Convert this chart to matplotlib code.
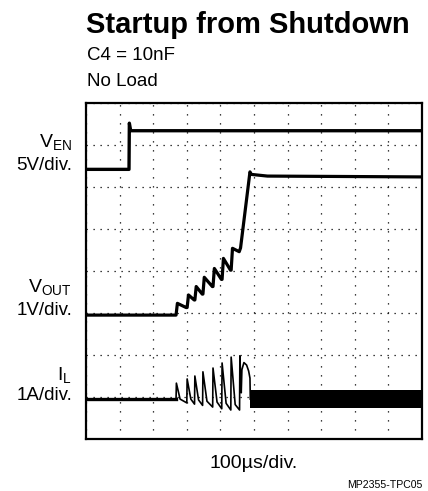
import matplotlib
matplotlib.use('Agg')
import matplotlib.pyplot as plt

plt.rcParams['font.family'] = ['Liberation Sans', 'DejaVu Sans']
plt.rcParams['mathtext.fontset'] = 'custom'
plt.rcParams['mathtext.rm'] = 'Liberation Sans'
plt.rcParams['mathtext.it'] = 'Liberation Sans:italic'

# scope traces, in divisions (10 horizontal x 8 vertical)
ven_x = [0, 1.28, 1.29, 1.33, 10]
ven_y = [6.42, 6.42, 7.52, 7.34, 7.34]

vout_x = [0, 2.68, 2.72, 2.98, 3.01, 3.05, 3.22, 3.24, 3.28, 3.46, 3.48, 3.52,
          3.76, 3.78, 3.82, 4.03, 4.05, 4.09, 4.30, 4.32, 4.36, 4.56, 4.60,
          4.88, 4.92, 5.4, 10]
vout_y = [2.95, 2.95, 3.23, 3.13, 3.13, 3.43, 3.31, 3.31, 3.63, 3.45, 3.45, 3.85,
          3.63, 3.63, 4.06, 3.80, 3.80, 4.30, 4.02, 4.02, 4.54, 4.46, 4.55,
          6.36, 6.30, 6.26, 6.24]

il_x = [0, 2.68, 2.69, 2.80, 3.00, 3.01, 3.12, 3.23, 3.24, 3.35, 3.47, 3.48,
        3.60, 3.77, 3.78, 3.90, 4.04, 4.05, 4.17, 4.31, 4.32, 4.44, 4.57, 4.58,
        4.62, 4.64, 4.70, 4.78, 4.84, 4.88, 4.89]
il_y = [0.95, 0.95, 1.33, 0.95, 0.86, 1.43, 0.95, 0.83, 1.50, 0.93, 0.80, 1.60,
        0.90, 0.76, 1.69, 0.88, 0.72, 1.81, 0.85, 0.69, 1.95, 0.82, 0.69, 1.98,
        1.10, 1.65, 1.82, 1.76, 1.62, 1.45, 0.95]

# switching-noise band once the converter is running
il_band_x = [4.89, 10]
il_band_lo = [0.74, 0.74]
il_band_hi = [1.17, 1.17]

W, H = 428, 491
fig = plt.figure(figsize=(W / 100, H / 100), dpi=100)

def px(x, y):
    return x / W, 1 - y / H

ax = fig.add_axes([86 / W, 1 - 439 / H, 336 / W, 336 / H])
ax.set_xlim(0, 10)
ax.set_ylim(0, 8)
ax.set_xticks(range(0, 11))
ax.set_yticks(range(0, 9))
ax.tick_params(length=0, labelbottom=False, labelleft=False)
ax.xaxis.grid(True, color='black', linestyle=(0, (1, 6.2)), lw=0.9)
ax.yaxis.grid(True, color='black', linestyle=(0, (1, 4.6)), lw=0.9)
for s in ax.spines.values():
    s.set_linewidth(1.6)

ax.plot(ven_x, ven_y, color='black', lw=2.4)
ax.plot(vout_x, vout_y, color='black', lw=2.3)
ax.plot(il_x, il_y, color='black', lw=1.2)
ax.plot(il_x[:2], il_y[:2], color='black', lw=2.4)
ax.fill_between(il_band_x, il_band_lo, il_band_hi, color='black', lw=0)

# header text
fig.text(*px(86, 33), 'Startup from Shutdown', fontsize=21, fontweight='bold',
         va='baseline', ha='left')
fig.text(*px(87, 60), 'C4 = 10nF', fontsize=13.5, va='baseline', ha='left')
fig.text(*px(87, 86), 'No Load', fontsize=13.5, va='baseline', ha='left')

# channel labels on the left
labels = [(r'V$_{\mathrm{EN}}$', 147, '5V/div.', 170),
          (r'V$_{\mathrm{OUT}}$', 292, '1V/div.', 315),
          (r'I$_{\mathrm{L}}$', 380, '1A/div.', 400)]
for name, y1, scale, y2 in labels:
    fig.text(*px(72, y1), name, fontsize=14, va='baseline', ha='right')
    fig.text(*px(72, y2), scale, fontsize=13.5, va='baseline', ha='right')

fig.text(*px(254, 468), '100\u00b5s/div.', fontsize=14, va='baseline', ha='center')
fig.text(*px(423, 488), 'MP2355-TPC05', fontsize=7.6, va='baseline', ha='right')

fig.savefig('out.png', dpi=100)
